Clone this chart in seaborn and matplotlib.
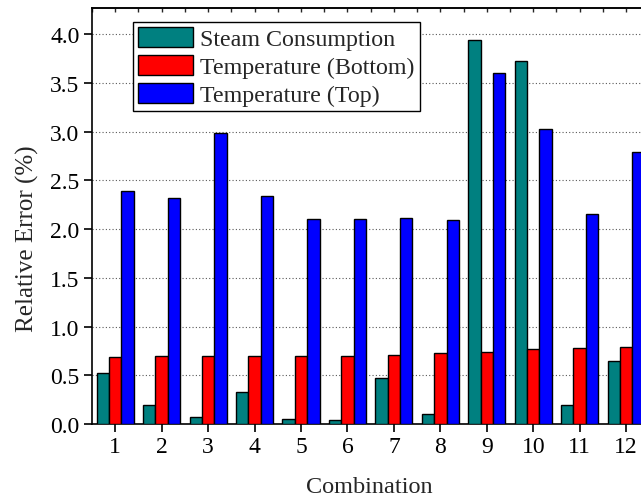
import numpy as np
import pandas as pd
import matplotlib
matplotlib.use("Agg")
import matplotlib.pyplot as plt
import seaborn as sns

combinations = ["1", "2", "3", "4", "5", "6", "7", "8", "9", "10", "11", "12"]
series_names = ["Steam Consumption", "Temperature (Bottom)", "Temperature (Top)"]
steam = [0.52, 0.19, 0.075, 0.33, 0.055, 0.045, 0.47, 0.10, 3.94, 3.73, 0.20, 0.65]
temp_bottom = [0.69, 0.70, 0.70, 0.70, 0.70, 0.70, 0.71, 0.73, 0.74, 0.77, 0.78, 0.79]
temp_top = [2.39, 2.32, 2.99, 2.345, 2.10, 2.10, 2.11, 2.095, 3.60, 3.03, 2.155, 2.79]
colors = ["#008080", "#FF0000", "#0000FF"]

df = pd.DataFrame({
    "Combination": combinations * 3,
    "Error": steam + temp_bottom + temp_top,
    "Series": [series_names[0]] * 12 + [series_names[1]] * 12 + [series_names[2]] * 12,
})

sns.set_style("white")
plt.rcParams["font.family"] = ["Liberation Serif", "DejaVu Serif"]
plt.rcParams["font.size"] = 17

fig = plt.figure(figsize=(6.41, 5.02), dpi=100)
ax = fig.add_axes([0.1435, 0.1534, 0.942, 0.8287])

sns.barplot(data=df, x="Combination", y="Error", hue="Series", order=combinations,
            hue_order=series_names, palette=colors, saturation=1,
            edgecolor="black", linewidth=1.0, width=0.8, ax=ax, zorder=3)

ax.set_xlim(-0.5, 12.5)
ax.set_ylim(0, 4.27)
ax.set_yticks(np.arange(0, 4.01, 0.5))
ax.set_yticklabels([f"{v:.1f}" for v in np.arange(0, 4.01, 0.5)])
ax.grid(axis="y", linestyle=(0, (1, 2)), color="0.35", linewidth=0.8, zorder=0)
ax.set_axisbelow(True)

for s in ax.spines.values():
    s.set_color("black")
    s.set_linewidth(1.2)

ax.tick_params(axis="both", which="major", direction="out", length=6, width=1.2,
               labelsize=17, colors="black", pad=3, bottom=True, left=True)

sec = ax.secondary_xaxis("top")
sec.set_xticks(np.arange(-0.5, 12.51, 0.5))
sec.tick_params(direction="in", length=3, width=1.0, labeltop=False)
sec.spines["top"].set_linewidth(1.2)

ax.set_xlabel("Combination", fontsize=17.5)
ax.set_ylabel("Relative Error (%)", fontsize=18)
ax.xaxis.set_label_coords(0.46, -0.125)
ax.yaxis.set_label_coords(-0.087, 0.447)

handles, labels = ax.get_legend_handles_labels()
if ax.get_legend() is not None:
    ax.get_legend().remove()
leg = ax.legend(handles, labels, loc="upper left", bbox_to_anchor=(0.068, 0.966),
                borderaxespad=0, fontsize=17.3, handlelength=2.3, handleheight=0.9,
                labelspacing=0.2, borderpad=0.2, handletextpad=0.3,
                fancybox=False, framealpha=1, edgecolor="black")
leg.get_frame().set_linewidth(1.0)

fig.savefig("out.png", dpi=100)
